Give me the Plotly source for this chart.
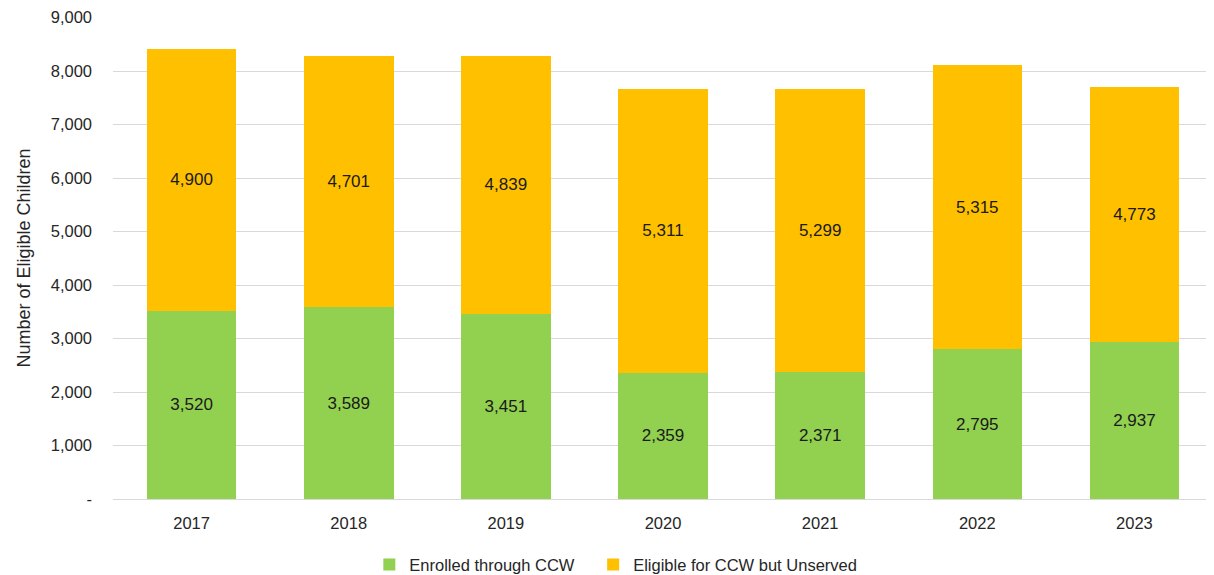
import plotly.graph_objects as go

years = ['2017', '2018', '2019', '2020', '2021', '2022', '2023']
enrolled = [3520, 3589, 3451, 2359, 2371, 2795, 2937]
unserved = [4900, 4701, 4839, 5311, 5299, 5315, 4773]

y_ticks = [0, 1000, 2000, 3000, 4000, 5000, 6000, 7000, 8000, 9000]
y_tick_text = ['-', '1,000', '2,000', '3,000', '4,000', '5,000', '6,000', '7,000', '8,000', '9,000']

font_family = 'Liberation Sans, Arial, sans-serif'

fig = go.Figure()
fig.add_trace(go.Bar(
    x=years, y=enrolled, name='Enrolled through CCW   ',
    marker=dict(color='#92D050', line=dict(width=0)),
    text=[f'{v:,}' for v in enrolled], textposition='inside',
    insidetextanchor='middle', textfont=dict(color='#1a1a1a', size=17),
))
fig.add_trace(go.Bar(
    x=years, y=unserved, name='Eligible for CCW but Unserved',
    marker=dict(color='#FFC000', line=dict(width=0)),
    text=[f'{v:,}' for v in unserved], textposition='inside',
    insidetextanchor='middle', textfont=dict(color='#1a1a1a', size=17),
))

# page body has an 8px margin, so the figure is a bit smaller than the window
fig.update_layout(
    barmode='stack',
    bargap=0.43,
    width=1206, height=567,
    margin=dict(l=105, r=1, t=9, b=76, autoexpand=False),
    paper_bgcolor='white',
    plot_bgcolor='white',
    font=dict(family=font_family, size=16, color='#262626'),
    uniformtext=dict(mode='show', minsize=17),
    legend=dict(
        orientation='h',
        xref='container', yref='container',
        x=0.504, xanchor='center',
        y=0.018, yanchor='middle',
        font=dict(size=16.5),
        traceorder='normal',
        itemwidth=30,
    ),
    xaxis=dict(
        automargin=False,
        showgrid=False,
        showline=True, linecolor='#d9d9d9', linewidth=1,
        ticks='', ticklabelstandoff=9, tickfont=dict(size=16.5),
    ),
    yaxis=dict(
        automargin=False,
        range=[0, 9010],
        tickvals=y_ticks, ticktext=y_tick_text,
        showgrid=True, gridcolor='#d9d9d9', gridwidth=1,
        zeroline=False,
        ticks='', ticklabelstandoff=20,
        ticklabeloverflow='allow',
        tickfont=dict(size=16.5),
        title=dict(text='Number of Eligible Children', font=dict(size=18), standoff=15),
    ),
)

fig.write_html('out.html')
